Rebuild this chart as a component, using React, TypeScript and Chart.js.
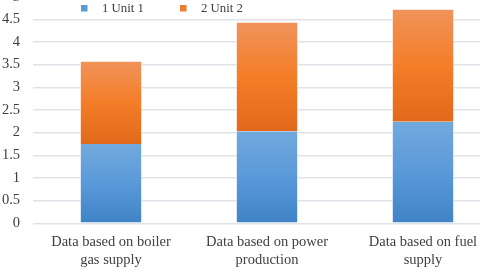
import React, { useEffect, useRef } from "react";
import { Chart, registerables } from "chart.js";

Chart.register(...registerables);

const categories: string[][] = [
  ["Data based on boiler", "gas supply"],
  ["Data based on power", "production"],
  ["Data based on fuel", "supply"],
];
const unit1: number[] = [1.75, 2.03, 2.24];
const unit2: number[] = [1.82, 2.4, 2.48];
const seriesLabels: string[] = ["1 Unit 1", "2 Unit 2"];
const yMin = 0;
const yMax = 5;
const yStep = 0.5;

const legendColors = ["#5b9bd5", "#ed7d31"];
const CANVAS_TOP = -25;
const FONT_FAMILY = "'Liberation Serif', 'Times New Roman', serif";

function makeGradient(ctx: any, which: number, stops: string[]) {
  const chart = ctx.chart;
  const area = chart.chartArea;
  const y = chart.scales && chart.scales.y;
  if (!area || !y || ctx.type !== "data") return stops[1];
  const i = ctx.dataIndex;
  const base = which === 0 ? 0 : unit1[i];
  const top = which === 0 ? unit1[i] : unit1[i] + unit2[i];
  const yTop = y.getPixelForValue(top);
  const yBot = y.getPixelForValue(base);
  if (!isFinite(yTop) || !isFinite(yBot) || yTop === yBot) return stops[1];
  const g = chart.ctx.createLinearGradient(0, yTop, 0, yBot);
  g.addColorStop(0, stops[0]);
  g.addColorStop(0.5, stops[1]);
  g.addColorStop(1, stops[2]);
  return g;
}

const legendPlugin = {
  id: "customLegend",
  afterDraw(chart: any) {
    const ctx = chart.ctx;
    ctx.save();
    ctx.font = "12.8px " + FONT_FAMILY;
    ctx.textBaseline = "middle";
    const items = [
      { x: 81, color: legendColors[0], text: chart.data.datasets[0].label },
      { x: 180, color: legendColors[1], text: chart.data.datasets[1].label },
    ];
    const yc = 8 - CANVAS_TOP;
    for (const it of items) {
      ctx.fillStyle = it.color;
      ctx.fillRect(it.x, yc - 3, 6.5, 6.5);
      ctx.fillStyle = "#404040";
      ctx.fillText(it.text, it.x + 21, yc + 0.5);
    }
    ctx.restore();
  },
};

const barBorder = { left: 1, right: 1, top: 0, bottom: 0 };

export default function App() {
  const ref = useRef<HTMLCanvasElement | null>(null);
  useEffect(() => {
    if (!ref.current) return;
    const chart = new Chart(ref.current, {
      type: "bar",
      data: {
        labels: categories,
        datasets: [
          {
            label: seriesLabels[0],
            data: unit1,
            backgroundColor: (c: any) => makeGradient(c, 0, ["#72a9dd", "#5a99d9", "#3f83c6"]),
            borderColor: "rgba(255,255,255,0.7)",
            borderWidth: barBorder,
            borderSkipped: false,
            barPercentage: 0.4,
            categoryPercentage: 1,
          },
          {
            label: seriesLabels[1],
            data: unit2,
            backgroundColor: (c: any) => makeGradient(c, 1, ["#f0935a", "#f47d28", "#e2691a"]),
            borderColor: "rgba(255,255,255,0.7)",
            borderWidth: barBorder,
            borderSkipped: false,
            barPercentage: 0.4,
            categoryPercentage: 1,
          },
        ],
      },
      options: {
        animation: false,
        responsive: false,
        maintainAspectRatio: false,
        layout: { padding: { top: 10, left: 2, right: 3, bottom: 6 } },
        plugins: {
          legend: { display: false },
          tooltip: { enabled: false },
          title: { display: false },
        },
        scales: {
          x: {
            stacked: true,
            grid: { display: false, drawTicks: false },
            border: { display: false },
            ticks: {
              color: "#404040",
              padding: 9,
              maxRotation: 0,
              autoSkip: false,
              font: { family: FONT_FAMILY, size: 14.5, lineHeight: 1.3 },
            },
          },
          y: {
            stacked: true,
            min: yMin,
            max: yMax,
            afterFit: (s: any) => {
              s.width = 31;
            },
            grid: { color: "#dfe3e8", lineWidth: 1.5, drawTicks: false },
            border: { display: false },
            ticks: {
              stepSize: yStep,
              color: "#404040",
              padding: 13,
              font: { family: FONT_FAMILY, size: 14.5 },
              callback: (v: any) => String(Math.round(Number(v) * 10) / 10),
            },
          },
        },
      },
      plugins: [legendPlugin],
    });
    return () => chart.destroy();
  }, []);
  return (
    <div style={{ position: "fixed", left: 0, top: 0, width: 480, height: 271, overflow: "hidden", background: "#fff" }}>
      <canvas
        ref={ref}
        width={504}
        height={310}
        style={{ position: "absolute", left: 0, top: CANVAS_TOP, width: 504, height: 310 }}
      />
    </div>
  );
}
